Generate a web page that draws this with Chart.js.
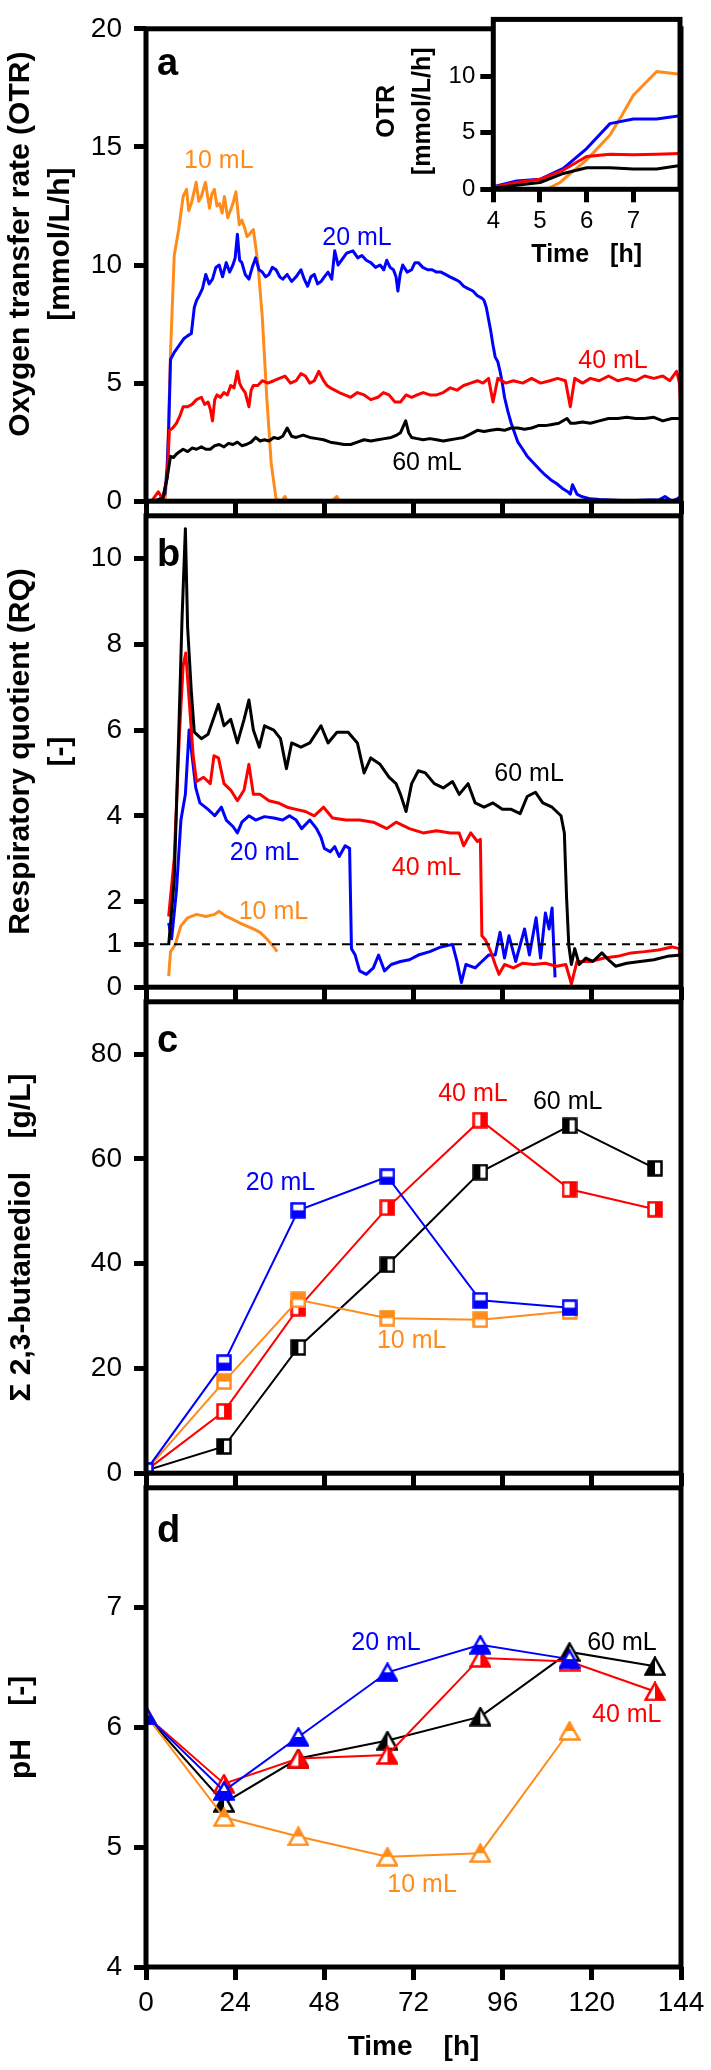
<!DOCTYPE html>
<html>
<head>
<meta charset="utf-8">
<script src="https://cdn.jsdelivr.net/npm/chart.js@4.4.0/dist/chart.umd.min.js"></script>
<style>
  html, body { margin: 0; padding: 0; background: #fff; }
  #fig { position: relative; width: 711px; height: 2070px; overflow: hidden; }
  #fig canvas { position: absolute; left: 0; }
</style>
</head>
<body>
<div id="fig">
  <canvas id="pa" width="711" height="530" style="top:0px"></canvas>
  <canvas id="pb" width="711" height="529" style="top:487px"></canvas>
  <canvas id="pc" width="711" height="529" style="top:973px"></canvas>
  <canvas id="pd" width="711" height="611" style="top:1459px"></canvas>
  <canvas id="inset" width="351" height="275" style="left:360px;top:0px"></canvas>
</div>
<script>
const FONT = "'Liberation Sans', Arial, Helvetica, sans-serif";
const ORANGE = '#ff8c1a', BLUE = '#0000ff', RED = '#ff0000', BLACK = '#000000';

// ---- axes ----
const timeTicks = [0, 24, 48, 72, 96, 120, 144];
const otrTicks = [0, 5, 10, 15, 20];
const rqTicks = [0, 1, 2, 4, 6, 8, 10];
const bdoTicks = [0, 20, 40, 60, 80];
const phTicks = [4, 5, 6, 7];
const insetXTicks = [4, 5, 6, 7];
const insetYTicks = [0, 5, 10];

// ---- a) OTR [mmol/L/h] ----
const otr10T = [0, 3, 5.1, 5.7, 6.6, 7.6, 8.8, 10, 10.9, 11.5, 12.2, 13.5, 14.2, 14.9, 16, 17.1, 17.7, 18.4, 19.1, 19.8, 20.5, 21.1, 22, 22.7, 23.4, 24.2, 25.1, 25.8, 26.5, 27.2, 27.8, 28.9, 30.1, 31.3, 32.5, 33.7, 35, 36.5, 37.4, 38, 50, 51.4, 52];
const otr10V = [0, 0, 0, 1.2, 6.3, 10.4, 11.5, 12.9, 13.2, 12.3, 12.6, 13.5, 12.7, 12.9, 13.5, 12.4, 13.0, 13.2, 12.5, 12.6, 12.2, 12.9, 12.0, 12.3, 12.6, 13.1, 11.7, 11.9, 11.6, 11.2, 11.3, 11.5, 10.1, 7.8, 4.4, 1.6, 0.1, 0, 0.2, 0, 0, 0.2, 0];

const otr20T = [0, 3, 5.1, 5.7, 6.1, 6.6, 7.6, 8.5, 9.4, 10.3, 11.2, 12.2, 13, 13.6, 14.3, 15.2, 16.1, 17, 17.9, 18.8, 19.7, 20.6, 21.6, 22.5, 23.4, 24, 24.6, 25.2, 25.8, 26.7, 27.7, 28.6, 29.5, 30.4, 31.3, 32.2, 33.1, 34, 35, 36, 36.8, 38, 39.2, 40.4, 41.7, 42.6, 43.5, 44.4, 45.3, 46.2, 47.1, 48, 49, 50, 50.8, 51.7, 52.6, 54, 55.7, 57, 58.1, 59.3, 60.5, 61.8, 63, 64, 64.8, 65.7, 66.6, 67.3, 67.8, 68.4, 69.1, 70.3, 71.5, 72.4, 73.3, 74.5, 75.8, 77, 78.2, 79.4, 80.6, 81.8, 83.1, 84.3, 85.5, 86.7, 88, 89.2, 90.4, 91, 91.6, 92.2, 92.8, 93.4, 94, 94.7, 95.3, 95.9, 96.5, 97.4, 98.3, 99.2, 100.1, 101.4, 102.6, 103.8, 105, 106.2, 107.5, 109, 110.5, 112, 113.5, 114.2, 114.8, 116, 117.2, 119.6, 122.1, 125, 128, 131.8, 135, 138, 139.7, 141.6, 143, 144];
const otr20V = [0, 0, 0.3, 1.5, 3.0, 6.0, 6.3, 6.5, 6.7, 6.9, 7.0, 7.1, 8.2, 8.5, 8.7, 9.0, 9.6, 9.2, 9.4, 9.9, 10.0, 9.5, 10.1, 9.7, 10.0, 10.3, 11.3, 10.2, 10.1, 9.6, 9.4, 9.9, 10.3, 9.8, 9.7, 9.5, 9.6, 9.9, 9.8, 9.5, 9.4, 9.6, 9.3, 9.5, 9.8, 9.4, 9.1, 9.5, 9.6, 9.2, 9.3, 9.5, 9.7, 9.4, 10.6, 10.0, 10.2, 10.5, 10.6, 10.3, 10.4, 10.2, 10.1, 9.9, 10.0, 9.8, 10.2, 9.9, 9.8, 9.5, 8.9, 9.6, 10.0, 9.7, 9.8, 10.1, 10.1, 9.9, 9.8, 9.8, 9.7, 9.7, 9.6, 9.5, 9.4, 9.3, 9.1, 9.0, 8.9, 8.7, 8.6, 8.5, 8.2, 7.7, 7.2, 6.6, 6.1, 5.9, 5.5, 5.0, 4.4, 3.8, 3.3, 2.9, 2.5, 2.2, 1.9, 1.7, 1.5, 1.3, 1.1, 0.9, 0.75, 0.55, 0.4, 0.3, 0.7, 0.3, 0.2, 0.1, 0.07, 0.05, 0.03, 0.03, 0.05, 0.05, 0.2, 0, 0.1, 0.2];

const otr40T = [0, 1.5, 3.3, 4.5, 5.7, 6.3, 7.2, 8.2, 9.1, 10, 11.2, 12.4, 13.6, 14.9, 15.8, 16.7, 17.3, 17.9, 18.5, 19.1, 20, 21, 21.9, 22.8, 23.7, 24.6, 25.2, 25.8, 26.7, 27.7, 28.3, 28.9, 30.1, 31.3, 32.8, 34.4, 35.9, 37.4, 38.9, 40.4, 41.7, 42.9, 44.1, 45.3, 46.5, 47.8, 48.7, 49.6, 50.8, 52, 53.5, 55.1, 56.9, 58.7, 60.5, 62.4, 63.9, 65.4, 67, 68.5, 70, 71.5, 73, 74.6, 76.4, 78.2, 80, 81.9, 83.7, 85.5, 87.4, 89.2, 90.7, 92.2, 93.4, 94.7, 96.8, 98.9, 101.4, 103.8, 106.2, 108.7, 110.8, 112.9, 114.2, 115.4, 117.5, 119.6, 122, 124.5, 127, 129.4, 131.8, 134.2, 136.7, 139.1, 141, 142.8, 143.6, 144];
const otr40V = [0, 0, 0.4, 0.1, 1.0, 3.0, 3.1, 3.3, 3.6, 4.0, 4.0, 4.1, 4.3, 4.4, 4.1, 4.2, 3.9, 3.4, 4.3, 4.5, 4.4, 4.6, 4.5, 4.9, 4.8, 5.5, 5.0, 4.8, 4.6, 4.0, 4.7, 4.9, 4.9, 5.1, 5.0, 5.1, 5.2, 5.3, 5.0, 5.1, 5.4, 5.3, 5.0, 5.1, 5.5, 5.1, 4.9, 4.8, 4.7, 4.6, 4.5, 4.4, 4.6, 4.5, 4.3, 4.4, 4.6, 4.5, 4.2, 4.2, 4.5, 4.4, 4.5, 4.6, 4.5, 4.5, 4.6, 4.8, 4.7, 4.9, 5.0, 5.1, 5.0, 5.2, 4.2, 5.2, 5.0, 5.1, 5.0, 5.2, 5.0, 5.1, 5.2, 5.1, 4.0, 5.2, 5.0, 5.2, 5.1, 5.3, 5.1, 5.2, 5.1, 5.3, 5.2, 5.3, 5.1, 5.5, 5.0, 3.8];

const otr60T = [0, 1.5, 4.5, 5.7, 6.6, 7.4, 8.2, 9.1, 10, 11.2, 12.4, 13.6, 14.9, 16.1, 17.3, 18.5, 19.7, 21, 22.2, 23.4, 24.6, 25.8, 27, 28.3, 29.5, 30.7, 31.9, 33.1, 34.4, 35.6, 36.8, 38, 39.2, 40.4, 42.3, 44.1, 46, 47.8, 49.6, 51.4, 53.3, 55.1, 56.9, 58.7, 60.5, 62.4, 64.2, 66, 67.5, 68.5, 69.9, 70.7, 71.5, 73, 74.6, 76.4, 78.2, 80, 81.9, 83.7, 85.5, 87.4, 89.2, 91, 92.8, 94.7, 96.5, 98.3, 100.1, 101.9, 103.8, 105.6, 107.5, 109.3, 111.1, 113.3, 114.3, 115.4, 117.5, 119.6, 122, 124.5, 127, 129.4, 131.8, 134.2, 136.7, 139.1, 141.5, 144];
const otr60V = [0, 0, 0.1, 1.0, 1.9, 1.85, 2.0, 2.1, 2.2, 2.1, 2.25, 2.2, 2.3, 2.2, 2.2, 2.35, 2.4, 2.3, 2.45, 2.4, 2.5, 2.35, 2.4, 2.5, 2.7, 2.55, 2.6, 2.55, 2.7, 2.65, 2.75, 3.1, 2.75, 2.7, 2.8, 2.7, 2.65, 2.6, 2.5, 2.45, 2.4, 2.4, 2.5, 2.6, 2.55, 2.6, 2.65, 2.7, 2.8, 2.9, 3.4, 2.9, 2.7, 2.65, 2.6, 2.65, 2.6, 2.55, 2.6, 2.65, 2.7, 2.85, 3.0, 2.95, 3.0, 3.05, 3.0, 3.1, 3.1, 3.05, 3.1, 3.2, 3.2, 3.25, 3.3, 3.5, 3.3, 3.3, 3.35, 3.3, 3.4, 3.5, 3.5, 3.55, 3.5, 3.5, 3.55, 3.4, 3.5, 3.5];

// inset: OTR between 4 and 8 h
const insT = [4.0, 4.5, 5.0, 5.5, 6.0, 6.5, 7.0, 7.5, 8.0];
const ins10T = [4.0, 5.14, 5.43, 5.71, 6.0, 6.5, 6.75, 7.0, 7.5, 8.0];
const ins10V = [0, 0, 0.6, 1.6, 2.6, 4.8, 6.5, 8.3, 10.4, 10.15];
const ins20V = [0.23, 0.73, 0.88, 1.85, 3.6, 5.8, 6.2, 6.2, 6.5];
const ins40V = [0.18, 0.6, 0.88, 1.7, 2.9, 3.1, 3.05, 3.1, 3.15];
const ins60V = [0.1, 0.35, 0.6, 1.4, 1.9, 1.9, 1.8, 1.8, 2.1];

// ---- b) RQ [-] ----
const rq10T = [6.1, 6.6, 7.8, 9.4, 11.2, 13.6, 16.1, 18.5, 19.7, 21.6, 23.4, 25.2, 27, 28.9, 30.7, 32.5, 34.4, 35.3];
const rq10V = [0.26, 0.83, 0.98, 1.43, 1.62, 1.7, 1.65, 1.7, 1.77, 1.65, 1.58, 1.5, 1.43, 1.36, 1.28, 1.13, 0.94, 0.83];

const rq20T = [6.1, 6.9, 8.2, 9.4, 10.6, 11.6, 12.4, 13.4, 14.5, 16.7, 18.5, 20.3, 21.6, 23.4, 24.6, 25.8, 27.7, 29.5, 31.9, 34.4, 36.8, 38.6, 40.4, 41.9, 44.1, 45.9, 47.1, 48, 49.6, 50.8, 52, 53.6, 54.8, 55.3, 56.3, 57.5, 59.3, 61.2, 62.6, 64.2, 66, 68.5, 70.9, 73.3, 76.4, 79.4, 82.5, 83.7, 84.9, 86.1, 88.6, 90.4, 92.2, 94, 95.3, 96.5, 97.7, 99.5, 101.9, 103.2, 105, 106.2, 107.5, 108.5, 109.3, 110.1];
const rq20V = [1.5, 1.13, 2.26, 3.9, 4.5, 6.0, 5.4, 4.65, 4.3, 4.15, 4.0, 4.2, 3.9, 3.75, 3.6, 3.85, 4.0, 3.9, 3.98, 3.95, 3.9, 4.0, 3.9, 3.7, 3.9, 3.7, 3.5, 3.24, 3.16, 3.28, 3.05, 3.3, 3.24, 0.9, 0.75, 0.38, 0.3, 0.45, 0.75, 0.38, 0.53, 0.6, 0.64, 0.75, 0.83, 0.94, 1.0, 0.6, 0.11, 0.53, 0.45, 0.6, 0.75, 0.75, 1.28, 0.68, 1.2, 0.6, 1.36, 0.75, 1.62, 0.68, 1.73, 1.36, 1.85, 0.23];

const rq40T = [6.1, 7.6, 9.0, 10, 10.7, 11.7, 12.7, 13.6, 15.5, 17.3, 18.3, 19.5, 21, 22.8, 24.6, 26.4, 27.7, 28.9, 30.7, 33.1, 35.6, 38, 40.4, 42.9, 45.3, 47.8, 50.2, 53.8, 57.5, 61.2, 64.8, 67.3, 70.9, 74.6, 78.2, 81.9, 84.3, 85.5, 87.4, 89.2, 90, 90.4, 91.4, 92.8, 94, 95, 96.5, 98.9, 101.4, 104.4, 107.5, 110.5, 113, 114.5, 116, 119.6, 123.3, 126.9, 130.6, 134.2, 137.9, 141.6, 143.5, 144];
const rq40V = [1.65, 3.0, 5.9, 7.5, 7.8, 6.6, 5.4, 4.8, 4.9, 4.75, 5.4, 5.35, 4.75, 4.6, 4.35, 4.6, 5.2, 4.5, 4.5, 4.35, 4.3, 4.2, 4.15, 4.1, 4.0, 4.2, 3.95, 3.9, 3.9, 3.85, 3.7, 3.85, 3.7, 3.6, 3.65, 3.6, 3.6, 3.3, 3.6, 3.4, 3.45, 1.2, 1.1, 0.83, 0.53, 0.3, 0.53, 0.45, 0.56, 0.53, 0.56, 0.49, 0.53, 0.08, 0.6, 0.6, 0.68, 0.72, 0.8, 0.83, 0.87, 0.94, 0.9, 0.53];

const rq60T = [6.1, 7.6, 8.8, 9.7, 10.6, 11.2, 12.2, 13, 14.9, 16.7, 17.9, 19.5, 21, 22.8, 24.6, 26.4, 27.7, 28.9, 30.5, 31.9, 34.4, 36.2, 37.8, 39.2, 41.7, 44.1, 47.1, 49, 51.4, 54.4, 56.9, 58.7, 60.5, 63, 65.4, 67.3, 68.5, 70, 71.5, 73.3, 75.2, 77.6, 80, 82.5, 84.3, 86.7, 88.6, 91, 93.4, 95.9, 98.3, 100.7, 102.6, 104.8, 106.8, 109.3, 111.7, 112.6, 113.2, 113.8, 114.5, 115.4, 116.6, 118.4, 120.3, 122.7, 124.5, 126.4, 129.4, 133, 136.7, 140.3, 144];
const rq60V = [0.98, 2.5, 5.9, 8.6, 10.7, 8.4, 6.9, 5.95, 5.8, 5.9, 6.2, 6.6, 6.1, 6.25, 5.7, 6.25, 6.7, 6.0, 5.6, 6.1, 6.0, 5.8, 5.1, 5.7, 5.6, 5.7, 6.1, 5.7, 5.95, 5.95, 5.7, 5.0, 5.35, 5.2, 4.9, 4.75, 4.5, 4.1, 4.75, 5.05, 5.0, 4.75, 4.65, 4.8, 4.5, 4.75, 4.3, 4.2, 4.3, 4.15, 4.15, 4.05, 4.45, 4.55, 4.3, 4.2, 4.0, 3.6, 2.1, 0.98, 0.53, 0.9, 0.53, 0.68, 0.6, 0.8, 0.64, 0.49, 0.56, 0.6, 0.64, 0.72, 0.75];

const rqOneT = [0, 144];
const rqOneV = [1, 1];

// ---- c) 2,3-butanediol [g/L] and d) pH, sampled ----
const sampleT = [0, 21, 41, 65, 90, 114, 137];
const bdo10 = [0.5, 17.5, 33.1, 29.6, 29.3, 30.9];
const bdo20 = [0.5, 21.1, 50.2, 56.6, 33.0, 31.6];
const bdo40 = [0.5, 11.8, 31.5, 50.7, 67.4, 54.2, 50.4];
const bdo60 = [0.5, 5.1, 24.0, 39.8, 57.5, 66.3, 58.2];

const ph10 = [6.1, 5.25, 5.09, 4.92, 4.95, 5.97];
const ph20 = [6.1, 5.47, 5.92, 6.46, 6.69, 6.57];
const ph40 = [6.1, 5.53, 5.74, 5.77, 6.58, 6.55, 6.3];
const ph60 = [6.1, 5.37, 5.74, 5.89, 6.09, 6.63, 6.51];

// ---- helpers ----
const xy = (ts, vs) => vs.map((v, i) => ({ x: ts[i], y: v }));

function trace(ts, vs, color, w) {
  return { data: xy(ts, vs), borderColor: color, borderWidth: w, borderJoinStyle: 'round', pointRadius: 0, tension: 0, fill: false };
}

// half filled marker drawn once, used as point style
function marker(shape, color, half) {
  const c = document.createElement('canvas');
  const w = shape === 'square' ? 16 : 22, h = shape === 'square' ? 17 : 20;
  c.width = w; c.height = h;
  const g = c.getContext('2d');
  const path = () => {
    g.beginPath();
    if (shape === 'square') g.rect(1.5, 1.5, w - 3, h - 3);
    else { g.moveTo(w / 2, 1.5); g.lineTo(w - 1.5, h - 1.5); g.lineTo(1.5, h - 1.5); g.closePath(); }
  };
  path(); g.fillStyle = '#fff'; g.fill();
  g.save(); path(); g.clip(); g.fillStyle = color;
  if (half === 'bottom') g.fillRect(0, h / 2, w, h / 2);
  else if (half === 'top') g.fillRect(0, 0, w, h / 2);
  else if (half === 'left') g.fillRect(0, 0, w / 2, h);
  else g.fillRect(w / 2, 0, w / 2, h);
  g.restore();
  path(); g.strokeStyle = color; g.lineWidth = 2.5; g.stroke();
  return c;
}

function sampled(vs, color, shape, half) {
  return { data: xy(sampleT, vs), borderColor: color, borderWidth: 2, pointStyle: marker(shape, color, half), pointRadius: 8, tension: 0, fill: false };
}

const figPlugin = {
  id: 'fig',
  beforeDatasetsDraw(chart, args, o) {
    if (!o.bg) return;
    const { ctx, chartArea: a } = chart;
    ctx.save(); ctx.fillStyle = o.bg;
    ctx.fillRect(a.left, a.top, a.right - a.left, a.bottom - a.top);
    ctx.restore();
  },
  afterDraw(chart, args, o) {
    const { ctx, chartArea: a, scales: { x, y } } = chart;
    ctx.save();
    ctx.lineWidth = 5; ctx.strokeStyle = '#000';
    ctx.strokeRect(a.left, a.top, a.right - a.left, a.bottom - a.top);
    ctx.font = '25px ' + FONT; ctx.textAlign = 'center'; ctx.textBaseline = 'middle';
    (o.labels || []).forEach(([txt, t, v, col]) => {
      ctx.fillStyle = col;
      ctx.fillText(txt, x.getPixelForValue(t), y.getPixelForValue(v));
    });
    if (o.letter) {
      ctx.fillStyle = '#000'; ctx.font = 'bold 38px ' + FONT;
      ctx.textAlign = 'left'; ctx.textBaseline = 'alphabetic';
      ctx.fillText(o.letter, a.left + 11, a.top + o.letterDy);
    }
    ctx.restore();
  }
};

Chart.defaults.font.family = FONT;
Chart.defaults.color = '#000';

const NB = '\u00a0';

function xScale(height, extra) {
  return Object.assign({
    type: 'linear', min: 0, max: 144,
    afterBuildTicks: s => { s.ticks = timeTicks.map(v => ({ value: v })); },
    ticks: { display: false, autoSkip: false },
    grid: { drawOnChartArea: false, drawTicks: true, tickLength: 13, tickWidth: 5, tickColor: '#000' },
    border: { display: false },
    afterFit: s => { s.height = height; }
  }, extra || {});
}

function yScale(min, max, tickVals, title, padTop) {
  return {
    type: 'linear', min, max,
    afterBuildTicks: s => { s.ticks = tickVals.map(v => ({ value: v })); },
    ticks: { font: { size: 28 }, color: '#000', padding: 12, autoSkip: false },
    grid: { drawOnChartArea: false, tickLength: 12, tickWidth: 5, tickColor: '#000' },
    border: { display: false },
    title: { display: true, text: title, color: '#000', font: { size: 30, weight: 'bold', lineHeight: 1.33 }, padding: { top: padTop, bottom: 0 } },
    afterFit: s => { s.width = 146; }
  };
}

function panel(id, padTop, datasets, scales, figOpts) {
  return new Chart(document.getElementById(id), {
    type: 'line',
    data: { datasets },
    options: {
      responsive: false, animation: false, devicePixelRatio: 1,
      layout: { padding: { top: padTop, right: 30, bottom: 0, left: 0 } },
      plugins: { legend: { display: false }, tooltip: { enabled: false }, fig: figOpts },
      scales
    },
    plugins: [figPlugin]
  });
}

// a) OTR
panel('pa', 19, [
  trace(otr60T, otr60V, BLACK, 3),
  trace(otr40T, otr40V, RED, 3),
  trace(otr20T, otr20V, BLUE, 3),
  trace(otr10T, otr10V, ORANGE, 3)
], {
  x: xScale(23),
  y: yScale(0, 20, otrTicks, [NB.repeat(5) + 'Oxygen transfer rate (OTR)', NB.repeat(5) + '[mmol/L/h]'], 1)
}, {
  letter: 'a', letterDy: 46,
  labels: [['10 mL', 19.6, 14.4, ORANGE], ['20 mL', 56.8, 11.15, BLUE], ['40 mL', 125.7, 5.94, RED], ['60 mL', 75.6, 1.6, BLACK]]
});

// inset of a)
new Chart(document.getElementById('inset'), {
  type: 'line',
  data: { datasets: [
    trace(insT, ins60V, BLACK, 3),
    trace(insT, ins40V, RED, 3),
    trace(insT, ins20V, BLUE, 3),
    trace(ins10T, ins10V, ORANGE, 3)
  ] },
  options: {
    responsive: false, animation: false, devicePixelRatio: 1,
    layout: { padding: { top: 19, right: 31, bottom: 0, left: 0 } },
    plugins: { legend: { display: false }, tooltip: { enabled: false }, fig: { bg: '#fff' } },
    scales: {
      x: {
        type: 'linear', min: 4, max: 8,
        afterBuildTicks: s => { s.ticks = insetXTicks.map(v => ({ value: v })); },
        ticks: { font: { size: 24 }, color: '#000', padding: 5, autoSkip: false, maxRotation: 0 },
        grid: { drawOnChartArea: false, tickLength: 13, tickWidth: 5, tickColor: '#000' },
        border: { display: false },
        title: { display: true, text: 'Time' + NB.repeat(3) + '[h]', color: '#000', font: { size: 25, weight: 'bold', lineHeight: 1.3 }, padding: { top: 0, bottom: 4 } },
        afterFit: s => { s.height = 85.7; }
      },
      y: {
        type: 'linear', min: 0, max: 15,
        afterBuildTicks: s => { s.ticks = insetYTicks.map(v => ({ value: v })); },
        ticks: { font: { size: 24 }, color: '#000', padding: 5, autoSkip: false },
        grid: { drawOnChartArea: false, tickLength: 13, tickWidth: 5, tickColor: '#000' },
        border: { display: false },
        title: { display: true, text: ['OTR' + NB.repeat(2), '[mmol/L/h]' + NB.repeat(2)], color: '#000', font: { size: 25, weight: 'bold', lineHeight: 1.44 }, padding: { top: 9, bottom: 0 } },
        afterFit: s => { s.width = 133.3; }
      }
    }
  },
  plugins: [figPlugin]
});

// b) RQ
panel('pb', 20, [
  { data: xy(rqOneT, rqOneV), borderColor: BLACK, borderWidth: 2, borderDash: [8, 6], pointRadius: 0 },
  trace(rq60T, rq60V, BLACK, 3),
  trace(rq40T, rq40V, RED, 3),
  trace(rq20T, rq20V, BLUE, 3),
  trace(rq10T, rq10V, ORANGE, 3)
], {
  x: xScale(23),
  y: yScale(0, 11, rqTicks, ['Respiratory quotient (RQ)', '[-]'], 1)
}, {
  letter: 'b', letterDy: 50,
  labels: [['60 mL', 103.1, 4.98, BLACK], ['20 mL', 31.9, 3.12, BLUE], ['40 mL', 75.5, 2.78, RED], ['10 mL', 34.3, 1.76, ORANGE]]
});

// c) 2,3-butanediol
panel('pc', 20, [
  sampled(bdo20, BLUE, 'square', 'bottom'),
  sampled(bdo10, ORANGE, 'square', 'top'),
  sampled(bdo40, RED, 'square', 'right'),
  sampled(bdo60, BLACK, 'square', 'left')
], {
  x: xScale(23),
  y: yScale(0, 90, bdoTicks, '\u03a3 2,3-butanediol' + NB.repeat(4) + '[g/L]', 1.5)
}, {
  letter: 'c', letterDy: 50,
  labels: [['40 mL', 88, 72.4, RED], ['60 mL', 113.5, 70.8, BLACK], ['20 mL', 36.2, 55.4, BLUE], ['10 mL', 71.5, 25.2, ORANGE]]
});

// d) pH
panel('pd', 20, [
  sampled(ph20, BLUE, 'triangle', 'bottom'),
  sampled(ph10, ORANGE, 'triangle', 'top'),
  sampled(ph40, RED, 'triangle', 'right'),
  sampled(ph60, BLACK, 'triangle', 'left')
], {
  x: xScale(103, {
    ticks: { display: true, font: { size: 28 }, color: '#000', padding: 6, autoSkip: false, maxRotation: 0 },
    title: { display: true, text: 'Time' + NB.repeat(4) + '[h]', color: '#000', font: { size: 28, weight: 'bold', lineHeight: 1.3 }, padding: { top: 0, bottom: 5 } }
  }),
  y: yScale(4, 8, phTicks, 'pH' + NB.repeat(4) + '[-]', 1.5)
}, {
  letter: 'd', letterDy: 54,
  labels: [['20 mL', 64.6, 6.70, BLUE], ['60 mL', 128.1, 6.70, BLACK], ['40 mL', 129.4, 6.10, RED], ['10 mL', 74.3, 4.68, ORANGE]]
});
</script>
</body>
</html>
